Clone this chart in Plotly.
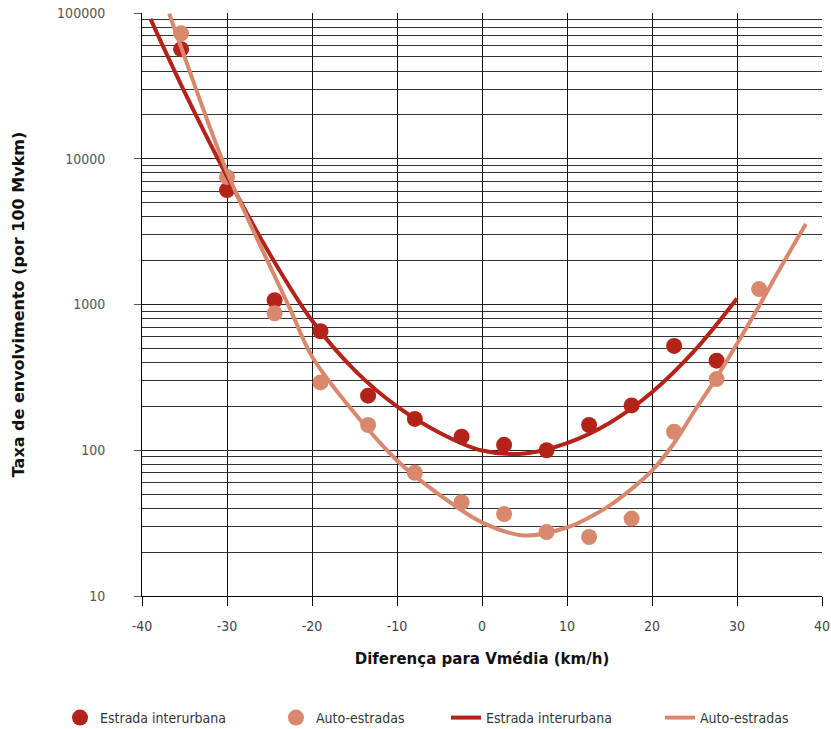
import plotly.graph_objects as go

# ---- data ----
x_inter = [-35.4, -30, -24.4, -19, -13.4, -7.9, -2.4, 2.6, 7.6, 12.6, 17.6, 22.6, 27.6]
y_inter = [56500, 6100, 1070, 655, 237, 164, 124, 109, 100, 149, 203, 520, 412]

x_auto = [-35.4, -30, -24.4, -19, -13.4, -7.9, -2.4, 2.6, 7.6, 12.6, 17.6, 22.6, 27.6, 32.6]
y_auto = [72500, 7500, 870, 292, 149, 70, 44, 36.5, 27.5, 25.4, 34, 134, 308, 1275]

# trend curves
xc_inter = [-39, -35, -30, -25, -20, -15, -10, -5, 0, 5, 10, 15, 20, 25, 30]
yc_inter = [91200, 28800, 7590, 2240, 776, 355, 200, 132, 99.5, 95, 112, 154, 250, 482, 1100]

xc_auto = [-36.8, -35, -30, -25, -22.5, -20, -15, -10, -5, 0, 5, 10, 12.5, 15, 17.5,
           20, 22.5, 25, 27.5, 30, 32.5, 35, 38.1]
yc_auto = [98900, 50100, 8130, 1862, 912, 440, 180, 85.1, 49.5, 32.0, 26.0, 29.5, 34.3, 41.7, 53.7,
           72.4, 110, 186, 309, 537, 955, 1738, 3565]

x_ticks = [-40, -30, -20, -10, 0, 10, 20, 30, 40]
y_ticks = [10, 100, 1000, 10000, 100000]

DARK = "#B3231A"
LIGHT = "#D9886D"
NARROW = "Liberation Sans Narrow, DejaVu Sans Condensed, Arial Narrow, sans-serif"
BOLD = "DejaVu Sans, Open Sans, sans-serif"

fig = go.Figure()
fig.add_trace(go.Scatter(x=x_inter, y=y_inter, mode="markers", name="Estrada interurbana",
                         marker=dict(color=DARK, size=16), legend="legend"))
fig.add_trace(go.Scatter(x=x_auto, y=y_auto, mode="markers", name="Auto-estradas",
                         marker=dict(color=LIGHT, size=16), legend="legend2"))
fig.add_trace(go.Scatter(x=xc_inter, y=yc_inter, mode="lines", name="Estrada interurbana",
                         line=dict(color=DARK, width=4, shape="spline", smoothing=1.0), legend="legend3"))
fig.add_trace(go.Scatter(x=xc_auto, y=yc_auto, mode="lines", name="Auto-estradas",
                         line=dict(color=LIGHT, width=4, shape="spline", smoothing=1.0), legend="legend4"))

leg_common = dict(orientation="h", xref="container", yref="container", y=1 - 718 / 729,
                  yanchor="middle", xanchor="left", bgcolor="rgba(0,0,0,0)",
                  font=dict(family=NARROW, size=14, color="#333"))

fig.update_layout(
    width=831, height=729,
    margin=dict(l=142, r=9, t=13, b=133, autoexpand=False),
    plot_bgcolor="white", paper_bgcolor="white",
    showlegend=True,
    legend=dict(x=60 / 831, **leg_common),
    legend2=dict(x=276 / 831, **leg_common),
    legend3=dict(x=446 / 831, **leg_common),
    legend4=dict(x=660 / 831, **leg_common),
    xaxis=dict(
        range=[-40.0001, 40.0001], tickvals=x_ticks, ticktext=[str(v) for v in x_ticks],
        showgrid=True, gridcolor="#111", gridwidth=1, automargin=False,
        showline=True, linecolor="#000", linewidth=1,
        ticks="outside", ticklen=9, tickcolor="#000",
        tickfont=dict(family=NARROW, size=14, color="#444"),
        ticklabelstandoff=8, ticklabeloverflow="allow", zeroline=False,
        title=dict(text="<b>Diferença para Vmédia (km/h)</b>", standoff=20,
                   font=dict(family=BOLD, size=15, color="#111")),
    ),
    yaxis=dict(
        type="log", range=[1, 5], tickvals=y_ticks, ticktext=[str(v) for v in y_ticks],
        showgrid=True, gridcolor="#222", gridwidth=1, automargin=False,
        minor=dict(dtick="D1", showgrid=True, gridcolor="#333", gridwidth=1, ticks=""),
        showline=True, linecolor="#000", linewidth=1,
        ticks="outside", ticklen=7, tickcolor="#555",
        tickfont=dict(family=NARROW, size=14, color="#555"),
        ticklabelstandoff=26, zeroline=False,
        title=dict(text="<b>Taxa de envolvimento (por 100 Mvkm)</b>", standoff=28,
                   font=dict(family=BOLD, size=16, color="#111")),
    ),
)

fig.write_html("out.html")
